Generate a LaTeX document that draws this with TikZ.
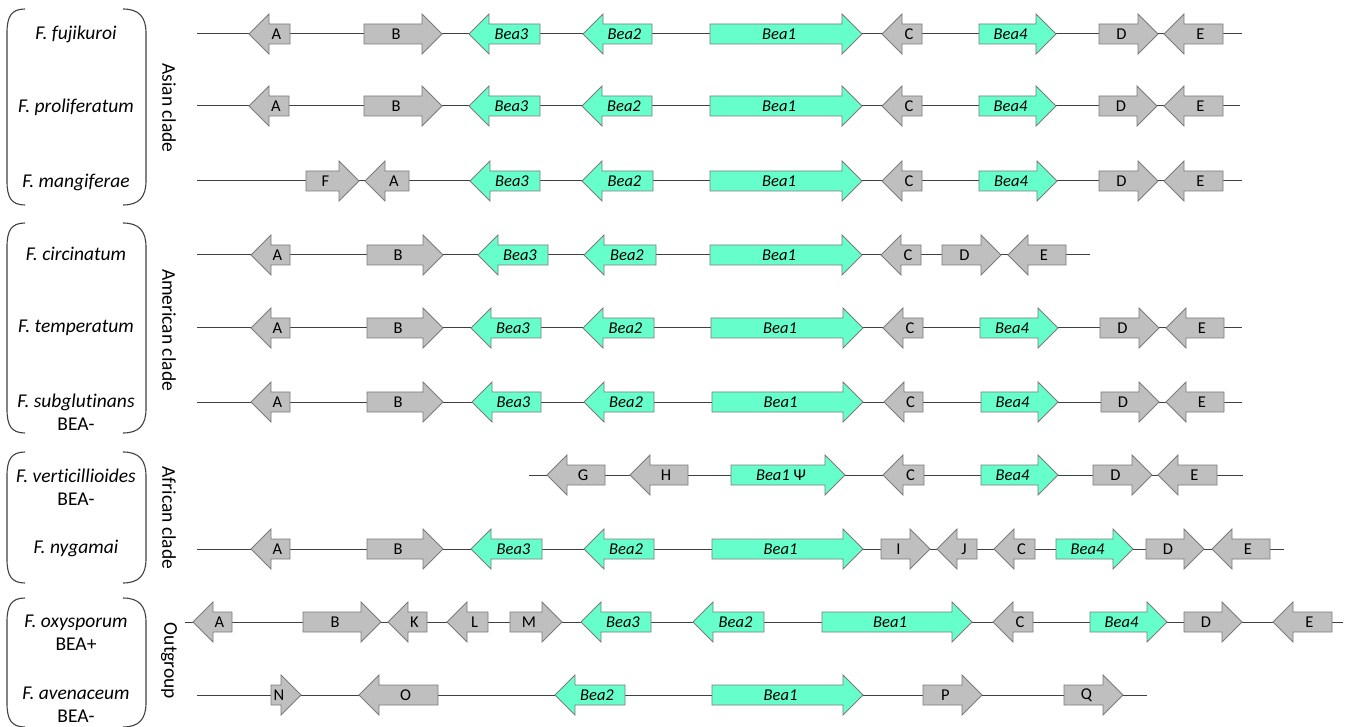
\documentclass[tikz,border=0pt]{standalone}
\usepackage{fontspec}
\setmainfont{Carlito}[Ligatures=NoCommon]
\definecolor{beateal}{HTML}{66FFCC}
\definecolor{genegray}{HTML}{BFBFBF}
\definecolor{edgegray}{HTML}{7A7A7A}
\definecolor{linegray}{HTML}{404040}
\tikzset{
  gray gene/.style={fill=genegray,draw=edgegray,line width=0.8pt,line join=miter},
  teal gene/.style={fill=beateal,draw=edgegray,line width=0.8pt,line join=miter},
  glabel/.style={inner sep=0pt,font=\fontsize{16.5}{19}\selectfont,text=black},
  blabel/.style={inner sep=0pt,font=\fontsize{16.5}{19}\selectfont\itshape,text=black},
  backbone/.style={draw=linegray,line width=1pt},
  species/.style={inner sep=0pt,align=center,font=\fontsize{19.5}{23}\selectfont},
  clade/.style={inner sep=0pt,rotate=-90,font=\fontsize{19.5}{22}\selectfont},
  bracket/.style={draw=linegray,line width=1.1pt}
}
% right-pointing gene: name, tail x, tip x, y, style, label style, text
\newcommand\geneR[7]{%
  \path[#5] (#2,{#4-10}) -- ({#3-20},{#4-10}) -- ({#3-20},{#4-20}) -- (#3,#4)
    -- ({#3-20},{#4+20}) -- ({#3-20},{#4+10}) -- (#2,{#4+10}) -- cycle;
  \node[#6] (#1) at ({(#2+#3-20)/2+3},#4) {#7};}
% left-pointing gene: name, tip x, tail x, y, style, label style, text
\newcommand\geneL[7]{%
  \path[#5] (#3,{#4-10}) -- ({#2+20},{#4-10}) -- ({#2+20},{#4-20}) -- (#2,#4)
    -- ({#2+20},{#4+20}) -- ({#2+20},{#4+10}) -- (#3,{#4+10}) -- cycle;
  \node[#6] (#1) at ({(#2+20+#3)/2-3},#4) {#7};}
\newcommand\grpbracket[2]{%
  \draw[bracket] (25,#1) .. controls (11,#1) and (7,{#1+8}) .. (7,{#1+24})
    -- (7,{#2-24}) .. controls (7,{#2-8}) and (11,#2) .. (25,#2);
  \draw[bracket] (123,#1) .. controls (139,#1) and (146,{#1+8}) .. (146,{#1+24})
    -- (146,{#2-24}) .. controls (146,{#2-8}) and (139,#2) .. (123,#2);}
\begin{document}
\begin{tikzpicture}[x=1pt,y=-1pt]
\useasboundingbox (0,0) rectangle (1350,727);

% brackets
\grpbracket{9}{205}
\grpbracket{223}{433}
\grpbracket{452}{583}
\grpbracket{598}{727}

% species
\node[species] (sp1) at (76,34) {\itshape F. fujikuroi};
\node[species] (sp2) at (76,107) {\itshape F. proliferatum};
\node[species] (sp3) at (76,182) {\itshape F. mangiferae};
\node[species] (sp4) at (76,254) {\itshape F. circinatum};
\node[species] (sp5) at (76,328) {\itshape F. temperatum};
\node[species] (sp6) at (76,412) {{\itshape F. subglutinans}\\BEA-};
\node[species] (sp7) at (76,487) {{\itshape F. verticillioides}\\BEA-};
\node[species] (sp8) at (76,548) {\itshape F. nygamai};
\node[species] (sp9) at (76,633) {{\itshape F. oxysporum}\\BEA+};
\node[species] (sp10) at (76,705) {{\itshape F. avenaceum}\\BEA-};

% clades
\node[clade] (cl1) at (169,108) {Asian clade};
\node[clade] (cl2) at (169,330) {American clade};
\node[clade] (cl3) at (169,518) {African clade};
\node[clade] (cl4) at (169,661) {Outgroup};

% ---- Row 1
\coordinate (r1s) at (197,34); \coordinate (r1e) at (1242,34);
\draw[backbone] (r1s) -- (r1e);
\geneL{r1A}{249}{290}{34}{gray gene}{glabel}{A}
\geneR{r1B}{364}{442}{34}{gray gene}{glabel}{B}
\geneL{r1b3}{469}{540}{34}{teal gene}{blabel}{Bea3}
\geneL{r1b2}{583}{652}{34}{teal gene}{blabel}{Bea2}
\geneR{r1b1}{710}{862}{34}{teal gene}{blabel}{Bea1}
\geneL{r1C}{882}{922}{34}{gray gene}{glabel}{C}
\geneR{r1b4}{979}{1056}{34}{teal gene}{blabel}{Bea4}
\geneR{r1D}{1099}{1158}{34}{gray gene}{glabel}{D}
\geneL{r1E}{1164}{1223}{34}{gray gene}{glabel}{E}

% ---- Row 2
\coordinate (r2s) at (197,106); \coordinate (r2e) at (1240,106);
\draw[backbone] (r2s) -- (r2e);
\geneL{r2A}{249}{289}{106}{gray gene}{glabel}{A}
\geneR{r2B}{364}{442}{106}{gray gene}{glabel}{B}
\geneL{r2b3}{469}{540}{106}{teal gene}{blabel}{Bea3}
\geneL{r2b2}{582}{652}{106}{teal gene}{blabel}{Bea2}
\geneR{r2b1}{710}{862}{106}{teal gene}{blabel}{Bea1}
\geneL{r2C}{882}{922}{106}{gray gene}{glabel}{C}
\geneR{r2b4}{979}{1056}{106}{teal gene}{blabel}{Bea4}
\geneR{r2D}{1099}{1157}{106}{gray gene}{glabel}{D}
\geneL{r2E}{1164}{1223}{106}{gray gene}{glabel}{E}

% ---- Row 3
\coordinate (r3s) at (197,181); \coordinate (r3e) at (1242,181);
\draw[backbone] (r3s) -- (r3e);
\geneR{r3F}{306}{359}{181}{gray gene}{glabel}{F}
\geneL{r3A}{365}{409}{181}{gray gene}{glabel}{A}
\geneL{r3b3}{470}{540}{181}{teal gene}{blabel}{Bea3}
\geneL{r3b2}{582}{653}{181}{teal gene}{blabel}{Bea2}
\geneR{r3b1}{710}{862}{181}{teal gene}{blabel}{Bea1}
\geneL{r3C}{882}{922}{181}{gray gene}{glabel}{C}
\geneR{r3b4}{979}{1057}{181}{teal gene}{blabel}{Bea4}
\geneR{r3D}{1099}{1158}{181}{gray gene}{glabel}{D}
\geneL{r3E}{1164}{1223}{181}{gray gene}{glabel}{E}

% ---- Row 4
\coordinate (r4s) at (197,255); \coordinate (r4e) at (1090,255);
\draw[backbone] (r4s) -- (r4e);
\geneL{r4A}{251}{290}{255}{gray gene}{glabel}{A}
\geneR{r4B}{367}{443}{255}{gray gene}{glabel}{B}
\geneL{r4b3}{478}{548}{255}{teal gene}{blabel}{Bea3}
\geneL{r4b2}{584}{656}{255}{teal gene}{blabel}{Bea2}
\geneR{r4b1}{710}{862}{255}{teal gene}{blabel}{Bea1}
\geneL{r4C}{881}{921}{255}{gray gene}{glabel}{C}
\geneR{r4D}{942}{1001}{255}{gray gene}{glabel}{D}
\geneL{r4E}{1008}{1066}{255}{gray gene}{glabel}{E}

% ---- Row 5
\coordinate (r5s) at (197,328); \coordinate (r5e) at (1242,328);
\draw[backbone] (r5s) -- (r5e);
\geneL{r5A}{251}{290}{328}{gray gene}{glabel}{A}
\geneR{r5B}{367}{443}{328}{gray gene}{glabel}{B}
\geneL{r5b3}{471}{541}{328}{teal gene}{blabel}{Bea3}
\geneL{r5b2}{583}{654}{328}{teal gene}{blabel}{Bea2}
\geneR{r5b1}{711}{863}{328}{teal gene}{blabel}{Bea1}
\geneL{r5C}{883}{923}{328}{gray gene}{glabel}{C}
\geneR{r5b4}{980}{1058}{328}{teal gene}{blabel}{Bea4}
\geneR{r5D}{1100}{1159}{328}{gray gene}{glabel}{D}
\geneL{r5E}{1166}{1224}{328}{gray gene}{glabel}{E}

% ---- Row 6
\coordinate (r6s) at (197,402); \coordinate (r6e) at (1242,402);
\draw[backbone] (r6s) -- (r6e);
\geneL{r6A}{251}{290}{402}{gray gene}{glabel}{A}
\geneR{r6B}{367}{443}{402}{gray gene}{glabel}{B}
\geneL{r6b3}{472}{541}{402}{teal gene}{blabel}{Bea3}
\geneL{r6b2}{584}{654}{402}{teal gene}{blabel}{Bea2}
\geneR{r6b1}{712}{863}{402}{teal gene}{blabel}{Bea1}
\geneL{r6C}{884}{923}{402}{gray gene}{glabel}{C}
\geneR{r6b4}{981}{1058}{402}{teal gene}{blabel}{Bea4}
\geneR{r6D}{1101}{1159}{402}{gray gene}{glabel}{D}
\geneL{r6E}{1166}{1224}{402}{gray gene}{glabel}{E}

% ---- Row 7
\coordinate (r7s) at (529,475); \coordinate (r7e) at (1243,475);
\draw[backbone] (r7s) -- (r7e);
\geneL{r7G}{547}{605}{475}{gray gene}{glabel}{G}
\geneL{r7H}{630}{688}{475}{gray gene}{glabel}{H}
\geneR{r7b1}{731}{845}{475}{teal gene}{blabel}{Bea1 {\upshape Ψ}}
\geneL{r7C}{883}{924}{475}{gray gene}{glabel}{C}
\geneR{r7b4}{981}{1058}{475}{teal gene}{blabel}{Bea4}
\geneR{r7D}{1093}{1152}{475}{gray gene}{glabel}{D}
\geneL{r7E}{1158}{1217}{475}{gray gene}{glabel}{E}

% ---- Row 8
\coordinate (r8s) at (197,549); \coordinate (r8e) at (1284,549);
\draw[backbone] (r8s) -- (r8e);
\geneL{r8A}{251}{290}{549}{gray gene}{glabel}{A}
\geneR{r8B}{367}{443}{549}{gray gene}{glabel}{B}
\geneL{r8b3}{471}{542}{549}{teal gene}{blabel}{Bea3}
\geneL{r8b2}{584}{654}{549}{teal gene}{blabel}{Bea2}
\geneR{r8b1}{712}{863}{549}{teal gene}{blabel}{Bea1}
\geneR{r8I}{881}{930}{549}{gray gene}{glabel}{I}
\geneL{r8J}{937}{977}{549}{gray gene}{glabel}{J}
\geneL{r8C}{994}{1035}{549}{gray gene}{glabel}{C}
\geneR{r8b4}{1056}{1133}{549}{teal gene}{blabel}{Bea4}
\geneR{r8D}{1146}{1204}{549}{gray gene}{glabel}{D}
\geneL{r8E}{1212}{1270}{549}{gray gene}{glabel}{E}

% ---- Row 9
\coordinate (r9s) at (185,622); \coordinate (r9e) at (1343,622);
\draw[backbone] (r9s) -- (r9e);
\geneL{r9A}{193}{232}{622}{gray gene}{glabel}{A}
\geneR{r9B}{303}{381}{622}{gray gene}{glabel}{B}
\geneL{r9K}{388}{427}{622}{gray gene}{glabel}{K}
\geneL{r9L}{447}{488}{622}{gray gene}{glabel}{L}
\geneR{r9M}{510}{562}{622}{gray gene}{glabel}{M}
\geneL{r9b3}{581}{651}{622}{teal gene}{blabel}{Bea3}
\geneL{r9b2}{693}{764}{622}{teal gene}{blabel}{Bea2}
\geneR{r9b1}{822}{972}{622}{teal gene}{blabel}{Bea1}
\geneL{r9C}{993}{1033}{622}{gray gene}{glabel}{C}
\geneR{r9b4}{1090}{1167}{622}{teal gene}{blabel}{Bea4}
\geneR{r9D}{1184}{1242}{622}{gray gene}{glabel}{D}
\geneL{r9E}{1273}{1332}{622}{gray gene}{glabel}{E}

% ---- Row 10
\coordinate (r10s) at (197,695); \coordinate (r10e) at (1147,695);
\draw[backbone] (r10s) -- (r10e);
\geneR{r10N}{271}{301}{695}{gray gene}{glabel}{N}
\geneL{r10O}{359}{438}{695}{gray gene}{glabel}{O}
\geneL{r10b2}{555}{625}{695}{teal gene}{blabel}{Bea2}
\geneR{r10b1}{712}{863}{695}{teal gene}{blabel}{Bea1}
\geneR{r10P}{923}{982}{695}{gray gene}{glabel}{P}
\geneR{r10Q}{1064}{1123}{695}{gray gene}{glabel}{Q}
\end{tikzpicture}
\end{document}
